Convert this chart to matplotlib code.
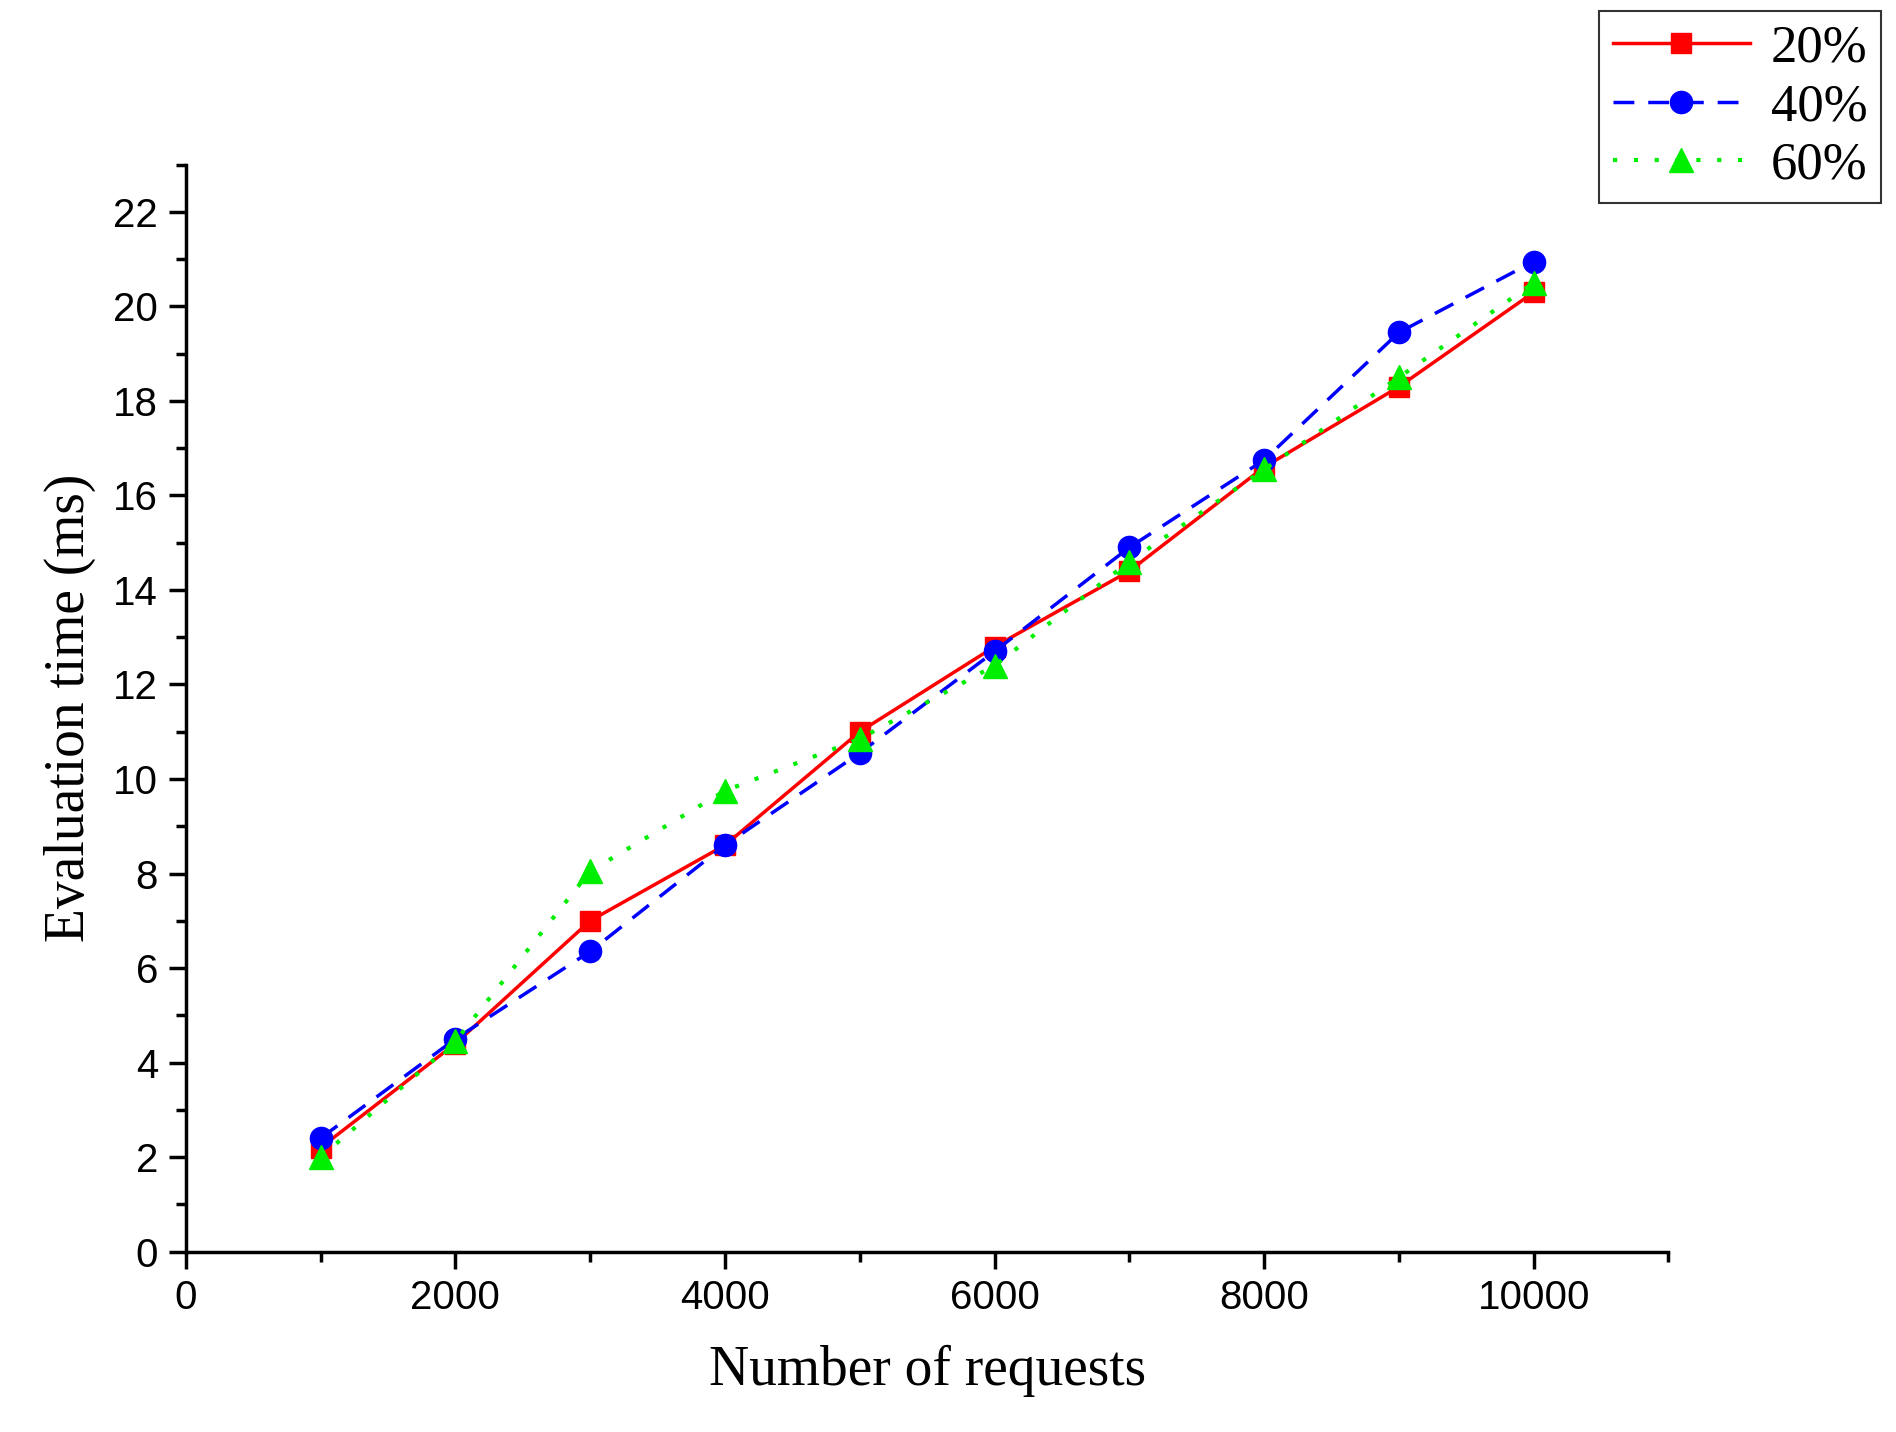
import matplotlib
matplotlib.use("Agg")
import matplotlib.pyplot as plt
from matplotlib.ticker import MultipleLocator

requests = [1000, 2000, 3000, 4000, 5000, 6000, 7000, 8000, 9000, 10000]
time_20 = [2.2, 4.4, 7.0, 8.6, 11.0, 12.8, 14.4, 16.6, 18.3, 20.3]
time_40 = [2.4, 4.5, 6.35, 8.6, 10.55, 12.7, 14.9, 16.75, 19.45, 20.95]
time_60 = [2.0, 4.45, 8.05, 9.75, 10.85, 12.4, 14.6, 16.55, 18.5, 20.5]
labels = ["20%", "40%", "60%"]

fig = plt.figure(figsize=(18.96, 14.32), dpi=100)
ax = fig.add_axes([0.098, 0.126, 0.782, 0.759])

ax.plot(requests, time_20, color="red", ls="-", lw=2.5, marker="s", ms=14, label=labels[0])
ax.plot(requests, time_40, color="blue", ls=(0, (6, 4)), lw=2.5, marker="o", ms=16, label=labels[1])
ax.plot(requests, time_60, color="#00ee00", ls=(0, (1, 4)), lw=3, marker="^", ms=17, label=labels[2])

ax.set_xlim(0, 11000)
ax.set_ylim(0, 23)
ax.xaxis.set_major_locator(MultipleLocator(2000))
ax.xaxis.set_minor_locator(MultipleLocator(1000))
ax.yaxis.set_major_locator(MultipleLocator(2))
ax.yaxis.set_minor_locator(MultipleLocator(1))
for s in ["top", "right"]:
    ax.spines[s].set_visible(False)
for s in ["left", "bottom"]:
    ax.spines[s].set_linewidth(2.5)
ax.tick_params(which="major", length=12, width=2.5, labelsize=29, pad=8)
ax.tick_params(which="minor", length=7, width=2.5)
for t in ax.get_xticklabels() + ax.get_yticklabels():
    t.set_fontfamily("Liberation Sans")

ax.set_xlabel("Number of requests", fontsize=40, family="Liberation Serif", labelpad=20)
ax.set_ylabel("Evaluation time (ms)", fontsize=40, family="Liberation Serif", labelpad=12)

leg = ax.legend(loc="upper right", bbox_to_anchor=(0.992, 0.992), bbox_transform=fig.transFigure,
                prop={"family": "Liberation Serif", "size": 38},
                frameon=True, fancybox=False, edgecolor="black", handlelength=2.6,
                borderpad=0.25, labelspacing=0.2, handletextpad=0.4, borderaxespad=0)
leg.get_frame().set_linewidth(1.5)

fig.savefig("out.png", dpi=100)
